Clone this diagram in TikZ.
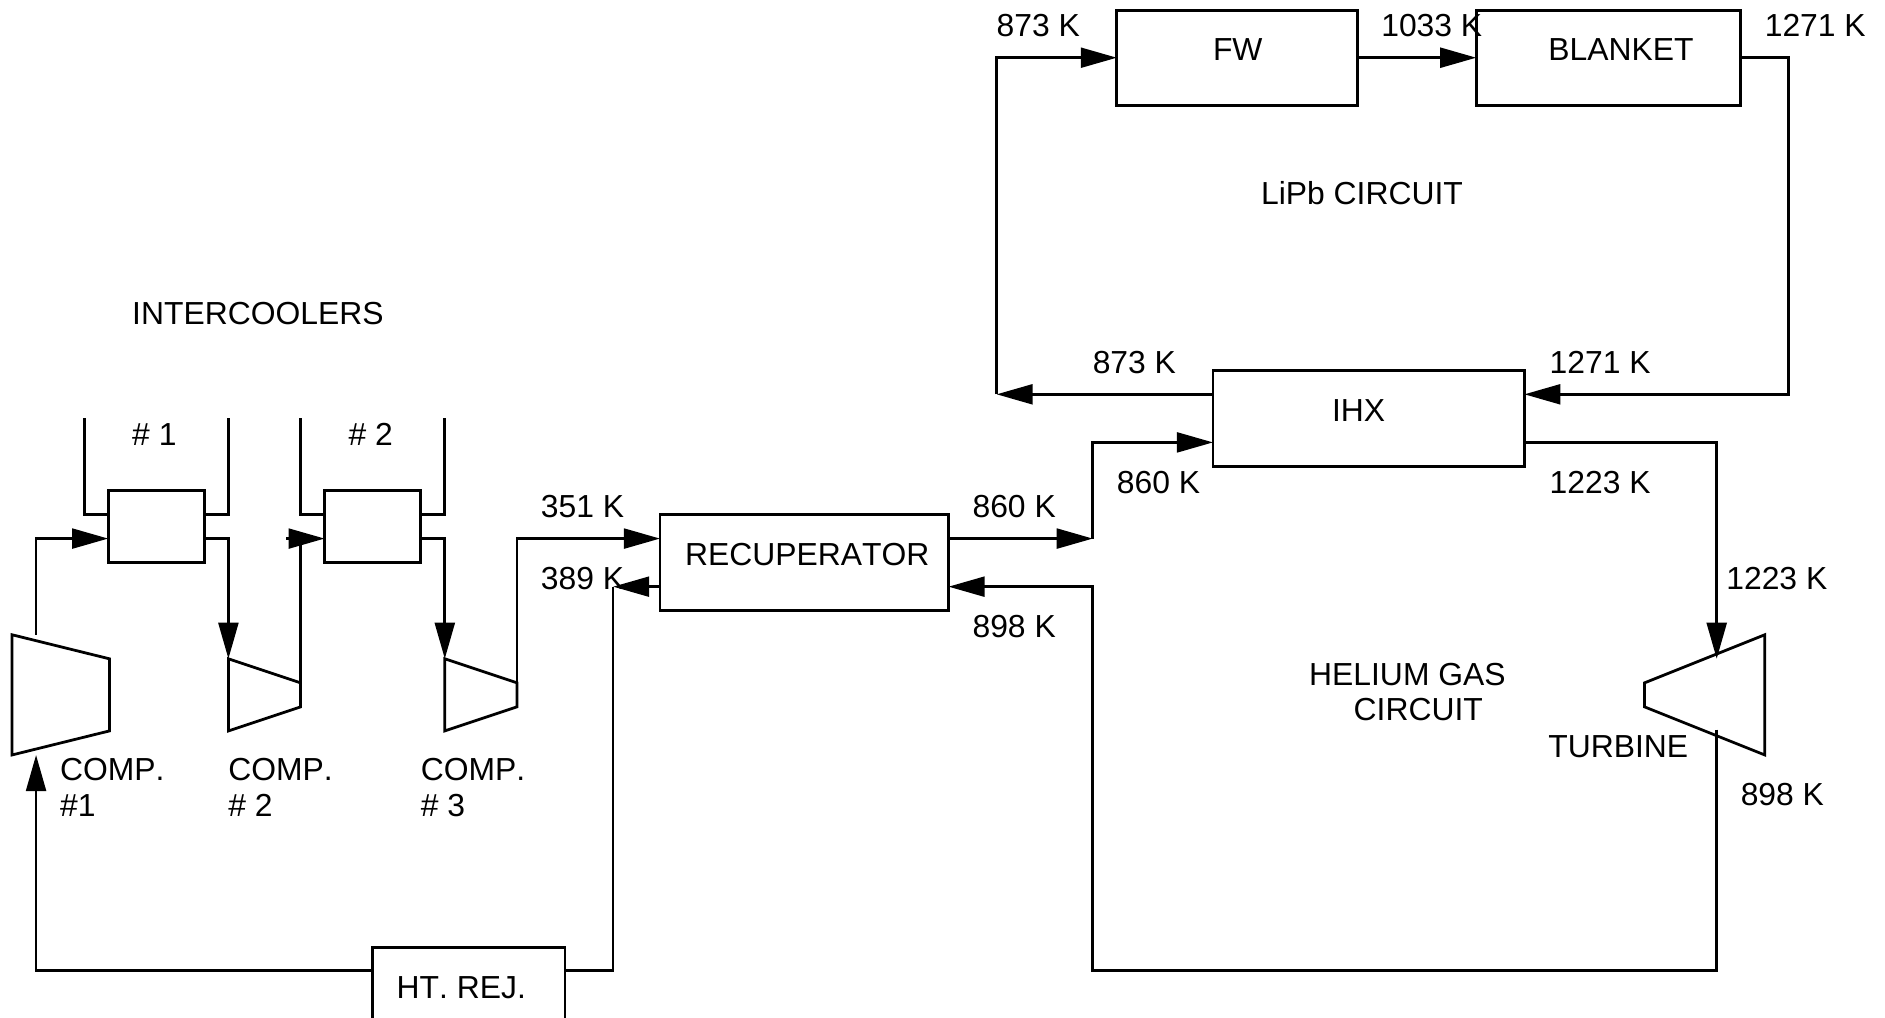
\documentclass[tikz,border=0pt]{standalone}
\usepackage{fontspec}
\setmainfont[Kerning=Off]{Liberation Sans}
\usetikzlibrary{arrows.meta,calc}
\tikzset{
  boxnode/.style n args={2}{draw,minimum width=#1,minimum height=#2,inner sep=0pt,outer sep=0pt},
  lbl/.style={anchor=base west,inner sep=0pt,outer sep=0pt,yshift=0.7pt,font=\fontsize{26.5}{32}\selectfont},
  pipe/.style={draw},
  flow/.style={draw,-{Triangle[length=30pt,width=16.5pt]}},
  machine/.style={draw},
}
\begin{document}
\begin{tikzpicture}[x=1pt,y=-1pt,line width=2.3pt,line join=miter,line cap=butt]
\path[use as bounding box,fill=white] (0,0) rectangle (1568,846);
\clip (0,0) rectangle (1568,846);
% boxes
\node[boxnode={200pt}{79pt}] (fw) at (1029,48.5) {};
\node[boxnode={220pt}{79pt}] (blanket) at (1338,48.5) {};
\node[boxnode={259pt}{80pt}] (ihx) at (1138.5,348) {};
\node[boxnode={240pt}{80pt}] (recup) at (669,468) {};
\node[boxnode={160pt}{80pt}] (htrej) at (390,828) {};
\node[boxnode={80pt}{60pt}] (ic1) at (130,438) {};
\node[boxnode={80pt}{60pt}] (ic2) at (310,438) {};
% machines
\draw[machine] (10,528) coordinate (c1a) -- (91,548) -- (91,608) -- (10,628) -- cycle;
\draw[machine] (190,548) coordinate (c2a) -- (250,568) coordinate (c2b) -- (250,588) -- (190,608) -- cycle;
\draw[machine] (370,548) coordinate (c3a) -- (430,568) coordinate (c3b) -- (430,588) -- (370,608) -- cycle;
\draw[machine] (1368,568) -- (1468,528) -- (1468,628) -- (1368,588) -- cycle;
% named ports and bends
\coordinate (c1out) at (30,528);
\coordinate (c1in) at (30,628);
\coordinate (ic1in) at (90,448);
\coordinate (ic1out) at (170,448);
\coordinate (ic2stub) at (238,448);
\coordinate (ic2in) at (270,448);
\coordinate (ic2out) at (350,448);
\coordinate (recA) at (549,448);
\coordinate (recB) at (549,488);
\coordinate (recC) at (789,448);
\coordinate (recD) at (789,488);
\coordinate (hrW) at (310,807);
\coordinate (hrE) at (470,807);
\coordinate (cold) at (510,488);
\coordinate (j860) at (909,448);
\coordinate (ihxA) at (1009,368);
\coordinate (ihxB) at (1009,328);
\coordinate (ihxC) at (1268,328);
\coordinate (ihxD) at (1268,368);
\coordinate (j873) at (829,328);
\coordinate (fwin) at (929,48);
\coordinate (fwout) at (1129,48);
\coordinate (blin) at (1228,48);
\coordinate (blout) at (1448,48);
\coordinate (tin) at (1428,548);
\coordinate (tout) at (1428,607);
\coordinate (bot) at (909,807);
\coordinate (ret) at (909,488);
% coolant stubs
\coordinate (a1) at (70,348); \coordinate (a2) at (190,348);
\coordinate (a3) at (250,348); \coordinate (a4) at (370,348);
\coordinate (b1) at (90,428); \coordinate (b2) at (170,428);
\coordinate (b3) at (270,428); \coordinate (b4) at (350,428);
\draw[pipe] (a1) |- (b1);
\draw[pipe] (a2) |- (b2);
\draw[pipe] (a3) |- (b3);
\draw[pipe] (a4) |- (b4);
% connectors
\draw[flow] (c1out) |- (ic1in);
\draw[flow] (ic1out) -| (c2a);
\draw[pipe] (c2b) -- (c2b |- ic2in);
\draw[flow] (ic2stub) -- (ic2in);
\draw[flow] (ic2out) -| (c3a);
\draw[flow] (c3b) |- (recA);
\draw[flow] (recB) -- (cold);
\draw[pipe] (hrE) -| (cold);
\draw[flow] (hrW) -| (c1in);
\draw[flow] (recC) -- (j860);
\draw[flow] (j860) |- (ihxA);
\draw[flow] (ihxB) -- (j873);
\draw[flow] (j873) |- (fwin);
\draw[flow] (fwout) -- (blin);
\draw[flow] (blout) -- ++(40,0) coordinate (cr) -- (cr |- ihxC) -- (ihxC);
\draw[flow] (ihxD) -| (tin);
\draw[flow] (tout) |- (bot) -- (ret) -- (recD);
% labels
\node[lbl] (t1) at (829,31) {873 K};
\node[lbl] (t2) at (1149,31) {1033 K};
\node[lbl] (t3) at (1468,31) {1271 K};
\node[lbl] (t4) at (1009,51) {FW};
\node[lbl] (t5) at (1288,51) {BLANKET};
\node[lbl] (t6) at (1049,171) {LiPb CIRCUIT};
\node[lbl] (t7) at (110,271) {INTERCOOLERS};
\node[lbl] (t8) at (909,311) {873 K};
\node[lbl] (t9) at (1289,311) {1271 K};
\node[lbl] (t10) at (1108,351) {IHX};
\node[lbl] (t11) at (110,371) {\# 1};
\node[lbl] (t12) at (290,371) {\# 2};
\node[lbl] (t13) at (929,411) {860 K};
\node[lbl] (t14) at (1289,411) {1223 K};
\node[lbl] (t15) at (450,431) {351 K};
\node[lbl] (t16) at (809,431) {860 K};
\node[lbl] (t17) at (570,471) {RECUPERATOR};
\node[lbl] (t18) at (450,491) {389 K};
\node[lbl] (t19) at (1436,491) {1223 K};
\node[lbl] (t20) at (809,531) {898 K};
\node[lbl] (t21) at (1089,571) {HELIUM GAS};
\node[lbl] (t22) at (1126,600) {CIRCUIT};
\node[lbl] (t23) at (1288,631) {TURBINE};
\node[lbl] (t24) at (50,650) {COMP.};
\node[lbl] (t25) at (50,680) {\#1};
\node[lbl] (t26) at (190,650) {COMP.};
\node[lbl] (t27) at (190,680) {\# 2};
\node[lbl] (t28) at (350,650) {COMP.};
\node[lbl] (t29) at (350,680) {\# 3};
\node[lbl] (t30) at (1448,671) {898 K};
\node[lbl] (t31) at (330,831) {HT. REJ.};
\end{tikzpicture}
\end{document}
